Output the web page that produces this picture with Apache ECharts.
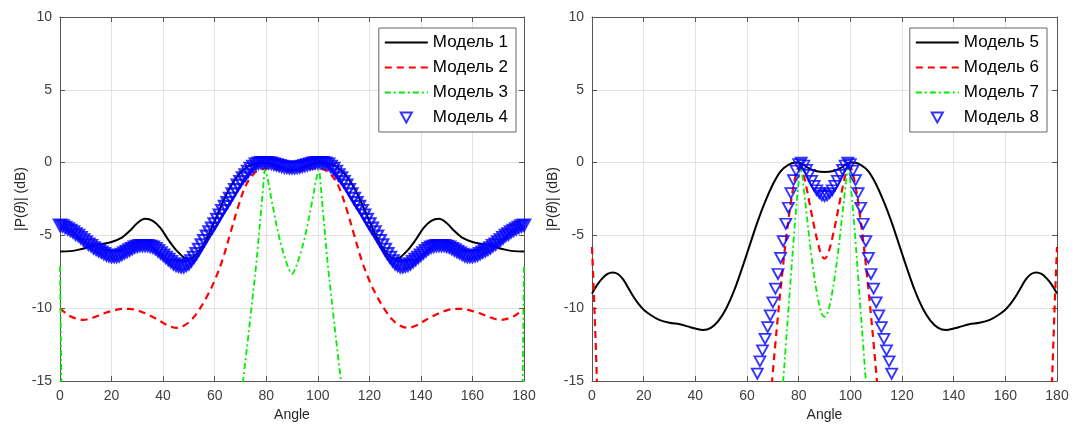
<!DOCTYPE html>
<html><head><meta charset="utf-8">
<script src="https://cdn.jsdelivr.net/npm/echarts@6/dist/echarts.min.js"></script>
<style>html,body{margin:0;padding:0;background:#fff}#c{width:1075px;height:427px}</style>
</head><body><div id="c"></div>
<script>
// ---------- DATA (left panel) ----------
const model1 = [[0,-6.1],[4,-6.08],[8,-5.95],[12,-5.75],[16,-5.6],[20,-5.45],[24,-5.15],[27,-4.7],[30,-4.15],[33,-3.85],[36,-4.0],[39,-4.5],[42,-5.3],[45,-6.0],[48,-6.5],[50,-6.6],[52,-6.45],[55,-5.8],[58,-4.8],[61,-3.6],[64,-2.4],[67,-1.4],[70,-0.7],[73,-0.25],[76,-0.05],[79,0],[82,-0.1],[85,-0.3],[88,-0.45],[90,-0.5],[92,-0.45],[95,-0.3],[98,-0.1],[101,0],[104,-0.05],[107,-0.25],[110,-0.7],[113,-1.4],[116,-2.4],[119,-3.6],[122,-4.8],[125,-5.8],[128,-6.45],[130,-6.6],[132,-6.5],[135,-6.0],[138,-5.3],[141,-4.5],[144,-4.0],[147,-3.85],[150,-4.15],[153,-4.7],[156,-5.15],[160,-5.45],[164,-5.6],[168,-5.75],[172,-5.95],[176,-6.08],[180,-6.1]];
const model2 = [[0,-10.0],[3,-10.45],[6,-10.7],[9,-10.8],[12,-10.7],[15,-10.5],[18,-10.3],[21,-10.15],[24,-10.05],[27,-10.05],[30,-10.15],[33,-10.35],[36,-10.6],[39,-10.9],[42,-11.2],[45,-11.35],[48,-11.2],[51,-10.8],[54,-10.1],[57,-9.2],[60,-8.1],[63,-6.7],[66,-4.9],[69,-3.1],[72,-1.6],[75,-0.8],[78,-0.45],[81,-0.4],[84,-0.45],[87,-0.55],[90,-0.6],[93,-0.55],[96,-0.45],[99,-0.4],[102,-0.45],[105,-0.8],[108,-1.6],[111,-3.1],[114,-4.9],[117,-6.7],[120,-8.1],[123,-9.2],[126,-10.1],[129,-10.8],[132,-11.2],[135,-11.35],[138,-11.2],[141,-10.9],[144,-10.6],[147,-10.35],[150,-10.15],[153,-10.05],[156,-10.05],[159,-10.15],[162,-10.3],[165,-10.5],[168,-10.7],[171,-10.8],[174,-10.7],[177,-10.45],[180,-10.0]];
const model3 = [[0,-7.1],[1,-22],[2,'-'],[69,-18],[71,-15],[72,-13.5],[73,-12],[74,-10.4],[75,-8.8],[76,-7.2],[77,-5.3],[78,-3.3],[79,-1.3],[79.5,-0.5],[80,-0.7],[81,-1.5],[82,-2.5],[83,-3.4],[84,-4.3],[85,-5.1],[86,-5.8],[87,-6.4],[88,-6.95],[89,-7.4],[90,-7.65],[91,-7.4],[92,-6.95],[93,-6.4],[94,-5.8],[95,-5.1],[96,-4.3],[97,-3.4],[98,-2.5],[99,-1.5],[100,-0.7],[100.5,-0.5],[101,-1.3],[102,-3.3],[103,-5.3],[104,-7.2],[105,-8.8],[106,-10.4],[107,-12],[108,-13.5],[109,-15],[111,-18],[112,'-'],[179,-22],[180,-7.1]];
const angles4 = Array.from({length:181}, (_, i) => i);
const model4 = [-4.3,-4.35,-4.45,-4.55,-4.65,-4.75,-4.9,-5.0,-5.15,-5.3,
-5.45,-5.6,-5.7,-5.85,-5.95,-6.05,-6.15,-6.25,-6.35,-6.4,
-6.45,-6.45,-6.45,-6.4,-6.3,-6.2,-6.1,-6.0,-5.9,-5.8,
-5.75,-5.7,-5.7,-5.7,-5.7,-5.75,-5.8,-5.9,-6.05,-6.2,
-6.35,-6.5,-6.65,-6.8,-6.95,-7.05,-7.1,-7.15,-7.15,-7.05,
-6.95,-6.75,-6.5,-6.25,-5.95,-5.65,-5.35,-5.05,-4.75,-4.5,
-4.2,-3.9,-3.6,-3.3,-3.0,-2.75,-2.45,-2.15,-1.85,-1.55,
-1.3,-1.05,-0.85,-0.6,-0.4,-0.25,-0.1,-0.05,0,0,
0,-0.02,-0.05,-0.1,-0.15,-0.2,-0.25,-0.3,-0.32,-0.35,
-0.35,
-0.35,-0.32,-0.3,-0.25,-0.2,-0.15,-0.1,-0.05,-0.02,0,
0,0,-0.05,-0.1,-0.25,-0.4,-0.6,-0.85,-1.05,-1.3,
-1.55,-1.85,-2.15,-2.45,-2.75,-3.0,-3.3,-3.6,-3.9,-4.2,
-4.5,-4.75,-5.05,-5.35,-5.65,-5.95,-6.25,-6.5,-6.75,-6.95,
-7.05,-7.15,-7.15,-7.1,-7.05,-6.95,-6.8,-6.65,-6.5,-6.35,
-6.2,-6.05,-5.9,-5.8,-5.75,-5.7,-5.7,-5.7,-5.7,-5.75,
-5.8,-5.9,-6.0,-6.1,-6.2,-6.3,-6.4,-6.45,-6.45,-6.45,
-6.4,-6.35,-6.25,-6.15,-6.05,-5.95,-5.85,-5.7,-5.6,-5.45,
-5.3,-5.15,-5.0,-4.9,-4.75,-4.65,-4.55,-4.45,-4.35,-4.3];

// ---------- DATA (right panel) ----------
const model5 = [[0,-9.0],[2,-8.4],[4,-7.95],[6,-7.65],[8,-7.55],[10,-7.65],[12,-8.0],[14,-8.6],[16,-9.2],[18,-9.7],[20,-10.1],[23,-10.5],[26,-10.8],[30,-11.0],[34,-11.1],[37,-11.25],[40,-11.4],[43,-11.5],[46,-11.35],[49,-10.85],[52,-10.0],[55,-8.8],[58,-7.3],[61,-5.7],[64,-4.1],[67,-2.7],[70,-1.5],[73,-0.6],[76,-0.15],[79,0],[81,-0.05],[84,-0.4],[87,-0.6],[90,-0.65],[93,-0.6],[96,-0.4],[99,-0.05],[101,0],[104,-0.15],[107,-0.6],[110,-1.5],[113,-2.7],[116,-4.1],[119,-5.7],[122,-7.3],[125,-8.8],[128,-10.0],[131,-10.85],[134,-11.35],[137,-11.5],[140,-11.4],[143,-11.25],[146,-11.1],[150,-11.0],[154,-10.8],[157,-10.5],[160,-10.1],[162,-9.7],[164,-9.2],[166,-8.6],[168,-8.0],[170,-7.65],[172,-7.55],[174,-7.65],[176,-7.95],[178,-8.4],[180,-9.0]];
const model6 = [[0,-5.8],[1,-10.3],[2,-15.5],[3,-21],[4,'-'],[68,-18.5],[69,-16.5],[70,-14.4],[71,-12.4],[72,-10.5],[73,-8.7],[74,-7.0],[75,-5.4],[76,-4.0],[77,-2.7],[78,-1.6],[79,-0.8],[80,-0.35],[81,-0.4],[82,-0.9],[83,-1.7],[84,-2.6],[85,-3.5],[86,-4.4],[87,-5.2],[88,-5.9],[89,-6.4],[90,-6.6],[91,-6.4],[92,-5.9],[93,-5.2],[94,-4.4],[95,-3.5],[96,-2.6],[97,-1.7],[98,-0.9],[99,-0.4],[100,-0.35],[101,-0.8],[102,-1.6],[103,-2.7],[104,-4.0],[105,-5.4],[106,-7.0],[107,-8.7],[108,-10.5],[109,-12.4],[110,-14.4],[111,-16.5],[112,-18.5],[113,'-'],[177,-21],[178,-15.5],[179,-10.3],[180,-5.8]];
const model7 = [[73,-17],[74,-15],[75,-12.6],[76,-10.2],[77,-7.8],[78,-5.4],[79,-3.2],[80,-1.3],[80.7,-0.3],[81.5,-1.0],[82,-1.8],[83,-3.4],[84,-5.0],[85,-6.5],[86,-7.8],[87,-8.9],[88,-9.8],[89,-10.4],[90,-10.6],[91,-10.4],[92,-9.8],[93,-8.9],[94,-7.8],[95,-6.5],[96,-5.0],[97,-3.4],[98,-1.8],[98.5,-1.0],[99.3,-0.3],[100,-1.3],[101,-3.2],[102,-5.4],[103,-7.8],[104,-10.2],[105,-12.6],[106,-15],[107,-17]];
const angles8 = [64,65,66,67,68,69,70,71,72,73,74,75,76,77,78,79,80,81,82,83,84,85,86,87,88,89,90,91,92,93,94,95,96,97,98,99,100,101,102,103,104,105,106,107,108,109,110,111,112,113,114,115,116];
const model8 = [-14.5,-13.65,-12.9,-12.1,-11.3,-10.5,-9.6,-8.65,-7.65,-6.55,-5.4,-4.2,-3.1,-2.1,-1.2,-0.55,-0.1,0,-0.2,-0.5,-0.85,-1.25,-1.6,-1.9,-2.1,-2.25,-2.3,-2.25,-2.1,-1.9,-1.6,-1.25,-0.85,-0.5,-0.2,0,-0.1,-0.55,-1.2,-2.1,-3.1,-4.2,-5.4,-6.55,-7.65,-8.65,-9.6,-10.5,-11.3,-12.1,-12.9,-13.65,-14.5];

const namesL = ['Модель 1','Модель 2','Модель 3','Модель 4'];
const namesR = ['Модель 5','Модель 6','Модель 7','Модель 8'];

// ---------- CHART ----------
const FONT = 'Liberation Sans, Arial, sans-serif';
const TRI = 'path://M0,0 L10,0 L5,9 Z';
const axisCol = '#555';
const gridL = {left:60, top:17, width:464, height:366};
const gridR = {left:592, top:17, width:465, height:366};

function xAx(g, pos){
  const main = pos === 'bottom';
  return {type:'value', gridIndex:g, position:pos, min:0, max:180, interval:20,
    axisLine:{show:true, onZero:false, lineStyle:{color:axisCol, width:1}},
    axisTick:{show:true, inside:true, length:5, lineStyle:{color:axisCol}},
    axisLabel:{show:main, color:'#404040', fontSize:14, fontFamily:FONT, margin:8},
    splitLine:{show:main, lineStyle:{color:'#e3e3e3', width:1}},
    name: main ? 'Angle' : '', nameLocation:'middle', nameGap:27,
    nameTextStyle:{color:'#262626', fontSize:14, fontFamily:FONT}};
}
function yAx(g, pos){
  const main = pos === 'left';
  return {type:'value', gridIndex:g, position:pos, min:-15, max:10, interval:5,
    axisLine:{show:true, onZero:false, lineStyle:{color:axisCol, width:1}},
    axisTick:{show:true, inside:true, length:5, lineStyle:{color:axisCol}},
    axisLabel:{show:main, color:'#404040', fontSize:14, fontFamily:FONT, margin:8},
    splitLine:{show:main, lineStyle:{color:'#e3e3e3', width:1}},
    name: main ? '|P({i|θ})| (dB)' : '', nameLocation:'middle', nameGap:25,
    nameTextStyle:{color:'#262626', fontSize:14, fontFamily:FONT,
      rich:{i:{fontStyle:'italic', fontSize:14, fontFamily:FONT, color:'#262626'}}}};
}
function lineS(name, data, xi, yi, color, type, width){
  return {type:'line', name, data, xAxisIndex:xi, yAxisIndex:yi, showSymbol:false, symbol:'none',
    smooth:0.35, connectNulls:false, clip:true, animation:false,
    lineStyle:{color, width, type}, itemStyle:{color}, z:2};
}
function triS(name, xs, ys, xi, yi, size, bw){
  return {type:'scatter', name, data: xs.map((x,i)=>[x, ys[i]]), xAxisIndex:xi, yAxisIndex:yi,
    symbol:TRI, symbolSize:size, clip:true, animation:false,
    itemStyle:{color:'rgba(255,255,255,0)', borderColor:'#0000ff', borderWidth:bw}, z:3};
}
const hidden = {color:'rgba(0,0,0,0)', borderColor:'rgba(0,0,0,0)', borderWidth:0, opacity:0};
function legendFor(names, right){
  return {orient:'vertical', right, top:28, backgroundColor:'#fff', borderColor:'#666', borderWidth:1,
    padding:[6,8,6,5], itemWidth:43, itemHeight:10, itemGap:8,
    textStyle:{fontSize:17, fontFamily:FONT, color:'#000', padding:[0,0,0,0]},
    data:[{name:names[0], itemStyle:hidden},{name:names[1], itemStyle:hidden},{name:names[2], itemStyle:hidden},
          {name:names[3], icon:TRI, itemStyle:{color:'rgba(255,255,255,0)', borderColor:'#0000ff', borderWidth:2}}]};
}

const chart = echarts.init(document.getElementById('c'), null, {renderer:'canvas'});
chart.setOption({
  animation:false,
  backgroundColor:'#fff',
  grid:[gridL, gridR],
  xAxis:[xAx(0,'bottom'), xAx(1,'bottom'), xAx(0,'top'), xAx(1,'top')],
  yAxis:[yAx(0,'left'), yAx(1,'left'), yAx(0,'right'), yAx(1,'right')],
  legend:[legendFor(namesL, 559), legendFor(namesR, 28)],
  series:[
    lineS(namesL[0], model1, 0, 0, '#000000', 'solid', 2),
    lineS(namesL[1], model2, 0, 0, '#ff0000', [7,5], 2.2),
    lineS(namesL[2], model3, 0, 0, '#00ee00', [6,3,2,3], 1.8),
    triS(namesL[3], angles4, model4, 0, 0, [12,11], 2.3),
    lineS(namesR[0], model5, 1, 1, '#000000', 'solid', 2),
    lineS(namesR[1], model6, 1, 1, '#ff0000', [7,5], 2.2),
    lineS(namesR[2], model7, 1, 1, '#00ee00', [6,3,2,3], 1.8),
    triS(namesR[3], angles8, model8, 1, 1, [11,10], 1.8)
  ]
});
</script>
</body></html>
